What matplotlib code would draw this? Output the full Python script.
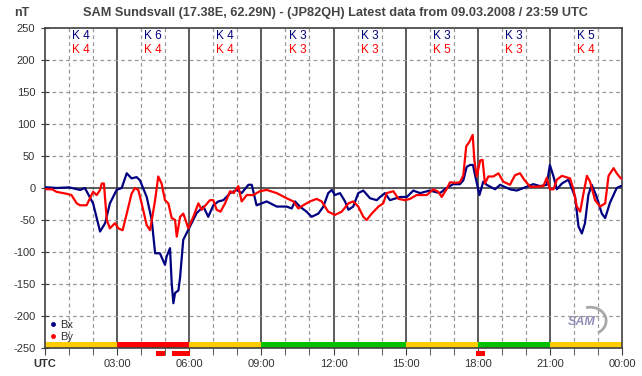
import matplotlib
matplotlib.use("Agg")
import matplotlib.pyplot as plt
from matplotlib.lines import Line2D
from matplotlib.patches import Arc

plt.rcParams['font.family'] = ['Liberation Sans', 'DejaVu Sans']

# hours UTC / nT
bx_t = [0, 0.1, 0.5, 1.0, 1.46, 1.66, 2.0, 2.29, 2.5, 2.7, 2.98, 3.19, 3.4, 3.6, 3.81, 3.95,
        4.23, 4.44, 4.58, 4.78, 4.99, 5.06, 5.2, 5.27, 5.34, 5.41, 5.55, 5.62, 5.75, 6.03,
        6.31, 6.59, 6.79, 7.0, 7.21, 7.42, 7.7, 7.97, 8.18, 8.46, 8.6, 8.8, 9.22, 9.64,
        10.05, 10.26, 10.4, 10.6, 10.88, 11.09, 11.37, 11.58, 11.78, 11.93, 12.06, 12.27,
        12.48, 12.62, 12.82, 13.03, 13.24, 13.52, 13.8, 13.94, 14.14, 14.35, 14.77, 15.05,
        15.32, 15.6, 16.0, 16.43, 16.7, 16.98, 17.26, 17.4, 17.54, 17.68, 17.8, 17.89,
        18.07, 18.23, 18.37, 18.72, 18.93, 19.34, 19.62, 19.9, 20.31, 20.59, 20.87, 21.0,
        21.15, 21.29, 21.5, 21.77, 22.05, 22.19, 22.33, 22.46, 22.6, 22.74, 22.95, 23.16,
        23.3, 23.5, 23.78, 23.95, 24.0]
bx = [1, 1, 0, 1, -3, 0, -24, -68, -55, -24, -3, 0, 23, 15, 17, 12,
      -14, -50, -102, -102, -120, -107, -94, -149, -180, -164, -160, -139, -81, -60,
      -39, -29, -45, -27, -21, -19, -8, -3, -8, 5, 5, -27, -21, -29,
      -29, -32, -21, -29, -37, -45, -40, -29, -8, -3, -11, -8,
      -21, -34, -29, -8, -4, -16, -19, -14, -8, -19, -14, -14,
      -4, -8, -4, -8, 0, 6, 6, 12, 33, 36, 36, 20,
      -11, 10, 5, -2, 5, -2, -4, 0, 6, 3, 5, 36,
      18, -2, 7, 13, -14, -60, -71, -55, -11, 5, -14, -40,
      -47, -23, 0, 3, 3]

by_t = [0, 0.3, 0.48, 0.9, 1.1, 1.32, 1.46, 1.73, 1.87, 2.0, 2.15, 2.29, 2.36, 2.45, 2.57,
        2.7, 2.91, 3.05, 3.23, 3.4, 3.6, 3.74, 3.88, 4.02, 4.23, 4.37, 4.58, 4.71, 4.85,
        4.99, 5.13, 5.27, 5.41, 5.48, 5.62, 5.75, 5.82, 5.96, 6.17, 6.38, 6.52, 6.86, 7.0,
        7.14, 7.3, 7.49, 7.7, 7.85, 8.04, 8.18, 8.39, 8.66, 8.94, 9.22, 9.64, 10.05, 10.33,
        10.54, 10.74, 11.02, 11.3, 11.51, 11.78, 12.06, 12.34, 12.62, 12.82, 13.03, 13.24,
        13.38, 13.59, 13.87, 14.07, 14.21, 14.49, 14.7, 14.98, 15.18, 15.46, 15.88, 16.15,
        16.36, 16.5, 16.7, 16.85, 17.05, 17.26, 17.4, 17.52, 17.65, 17.79, 17.86, 17.96,
        18.1, 18.2, 18.3, 18.44, 18.65, 18.86, 19.06, 19.34, 19.55, 19.76, 19.93, 20.18,
        20.45, 20.73, 20.87, 21.0, 21.15, 21.29, 21.5, 21.84, 21.98, 22.12, 22.26, 22.4,
        22.54, 22.67, 22.88, 23.09, 23.3, 23.44, 23.65, 23.78, 23.95, 24.0]
by = [-2, -2, -6, -9, -11, -24, -27, -27, -16, -6, -11, -3, 7, 7, -50,
      -63, -55, -63, -66, -40, -9, 0, -3, -24, -58, -66, -19, 18, 7,
      -19, -24, -47, -50, -76, -45, -40, -47, -63, -45, -24, -34, -19, -19,
      -34, -37, -24, -5, -8, 3, -21, -11, -11, -5, -3, -8, -16, -21,
      -32, -27, -21, -17, -21, -37, -42, -37, -24, -21, -29, -45,
      -50, -40, -29, -24, -8, -5, -17, -19, -17, -11, -11, -2,
      -6, -14, -2, 9, 8, 9, 20, 65, 72, 83, 43, 18,
      43, 44, 7, 18, 18, 23, 10, 5, 20, 23, 13, 2,
      2, 3, 16, -2, -2, 13, 19, 15, -2, -29, -37, -8,
      19, 10, -19, -29, -24, 19, 31, 23, 15, 15]

k_bx = ['K 4', 'K 6', 'K 4', 'K 3', 'K 3', 'K 3', 'K 3', 'K 5']
k_by = ['K 4', 'K 4', 'K 4', 'K 3', 'K 3', 'K 5', 'K 3', 'K 4']

# activity bar along the bottom
seg_start = [0, 3, 6, 9, 15, 18, 21]
seg_len = [3, 3, 3, 6, 3, 3, 3]
seg_col = ['#ffcc00', '#ff0000', '#ffcc00', '#00c000', '#ffcc00', '#00c000', '#ffcc00']
alert_start = [4.62, 5.28, 17.93]
alert_len = [0.37, 0.75, 0.37]

xtick_labels = ['UTC', '03:00', '06:00', '09:00', '12:00', '15:00', '18:00', '21:00', '00:00']

fig = plt.figure(figsize=(6.42, 3.76), dpi=100)
ax = fig.add_axes([45/642, 28/376, 577/642, 320/376])

# grid
for h in range(1, 24):
    if h % 3 == 0:
        ax.axvline(h, color='#404040', lw=1.2, zorder=1)
    else:
        ax.axvline(h, color='#999999', lw=0.9, ls=(0, (3, 2.5)), zorder=1)
for v in range(-200, 250, 50):
    if v == 0:
        ax.axhline(v, color='#404040', lw=1.2, zorder=1)
    else:
        ax.axhline(v, color='#999999', lw=0.9, ls=(0, (3, 2.5)), zorder=1)

ax.plot(bx_t, bx, color='#000080', lw=1.6, zorder=3)
ax.plot(by_t, by, color='#ff0000', lw=1.6, zorder=4)

ax.bar(seg_start, [9.5]*len(seg_start), width=seg_len, bottom=-250, align='edge',
       color=seg_col, zorder=2)
ax.bar(alert_start, [7.5]*len(alert_start), width=alert_len, bottom=-262, align='edge',
       color='#ff0000', clip_on=False, zorder=2)

for i in range(8):
    ax.text(3*i + 1.5, 237, k_bx[i], color='#000080', fontsize=8.5, ha='center', va='center')
    ax.text(3*i + 1.5, 216, k_by[i], color='#ff0000', fontsize=8.5, ha='center', va='center')

ax.set_xlim(0, 24)
ax.set_ylim(-250, 250)
ax.set_xticks(range(0, 25, 3))
ax.set_xticklabels(xtick_labels, fontsize=8, color='#333333')
ax.get_xticklabels()[0].set_fontweight('bold')
ax.set_xticks(range(0, 25), minor=True)
ax.set_yticks(range(-250, 251, 50))
ax.set_yticklabels([str(v) for v in range(-250, 251, 50)], fontsize=8, color='#333333')
ax.tick_params(axis='x', which='both', direction='out', length=5, color='#404040', pad=3)
ax.tick_params(axis='y', direction='inout', length=6, color='#404040', pad=4)
for s in ax.spines.values():
    s.set_color('#404040')
    s.set_linewidth(1.2)

handles = [Line2D([], [], color='#000080', marker='o', ms=2.5, ls='none'),
           Line2D([], [], color='#ff0000', marker='o', ms=2.5, ls='none')]
ax.legend(handles, ['Bx', 'By'], loc='lower left', bbox_to_anchor=(-0.005, -0.005),
          frameon=False, fontsize=8, handlelength=0.6, handletextpad=0.3,
          labelspacing=0.2, borderpad=0.2, labelcolor='#333333')

# rough stand-in for the SAM logo
ax.text(0.93, 0.08, 'SAM', transform=ax.transAxes, fontsize=9, style='italic',
        fontweight='bold', color='#9090b8', ha='center', va='center', zorder=5)
ax.add_patch(Arc((0.945, 0.085), 0.055, 0.085, theta1=-70, theta2=100, transform=ax.transAxes,
                 color='#a8a8a8', lw=2, zorder=5))

fig.text(0.523, 0.965, 'SAM Sundsvall (17.38E, 62.29N) - (JP82QH) Latest data from 09.03.2008 / 23:59 UTC',
         fontsize=9.2, fontweight='bold', color='#444444', ha='center', va='center')
fig.text(0.034, 0.965, 'nT', fontsize=9, fontweight='bold', color='#444444', ha='center', va='center')

fig.savefig('out.png', dpi=100)
